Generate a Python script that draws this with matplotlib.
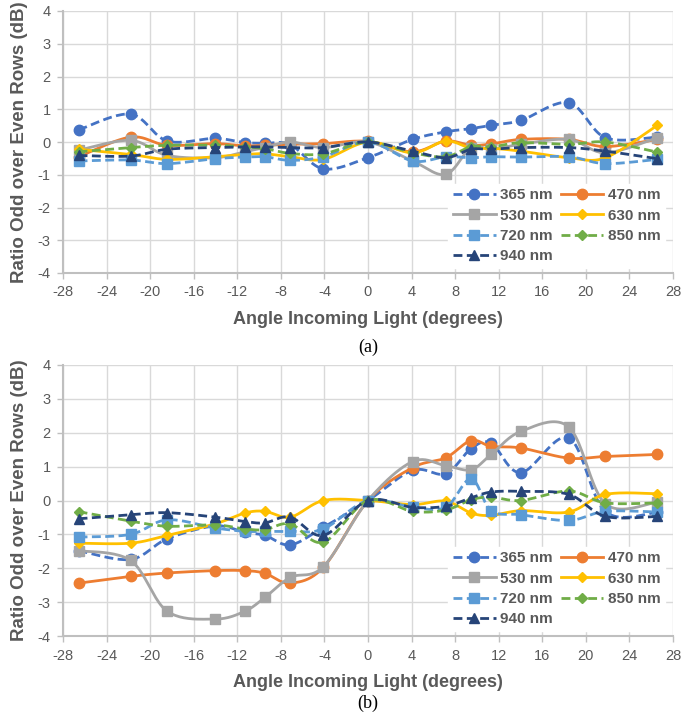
import numpy as np
import matplotlib
matplotlib.use("Agg")
import matplotlib.pyplot as plt

# ---------------- data ----------------
angles = [-26.57, -21.8, -18.43, -14.04, -11.31, -9.46, -7.13, -4.09, 0,
          4.09, 7.13, 9.46, 11.31, 14.04, 18.43, 21.8, 26.57]
labels = ["365 nm", "470 nm", "530 nm", "630 nm", "720 nm", "850 nm", "940 nm"]

# (a)
a_365 = [0.37, 0.85, 0.03, 0.11, -0.02, -0.04, -0.08, -0.82, -0.48,
         0.08, 0.31, 0.41, 0.51, 0.66, 1.20, 0.13, 0.15]
a_470 = [-0.45, 0.15, -0.10, -0.05, -0.12, -0.10, -0.07, -0.05, 0.02,
         -0.30, 0.03, -0.10, -0.06, 0.08, 0.08, -0.14, 0.08]
a_530 = [-0.25, 0.05, -0.41, -0.48, -0.30, -0.17, 0.00, -0.17, 0.00,
         -0.58, -0.99, -0.17, -0.22, -0.07, 0.08, -0.33, 0.13]
a_630 = [-0.22, -0.38, -0.53, -0.45, -0.38, -0.36, -0.45, -0.53, 0.00,
         -0.33, 0.03, -0.19, -0.19, -0.28, -0.48, -0.48, 0.51]
a_720 = [-0.58, -0.55, -0.66, -0.51, -0.46, -0.45, -0.56, -0.45, 0.00,
         -0.58, -0.45, -0.48, -0.45, -0.46, -0.45, -0.66, -0.53]
a_850 = [-0.30, -0.17, -0.10, -0.10, -0.15, -0.20, -0.35, -0.36, 0.00,
         -0.33, -0.45, -0.14, -0.15, -0.02, -0.07, 0.00, -0.31]
a_940 = [-0.41, -0.43, -0.22, -0.17, -0.15, -0.15, -0.17, -0.17, 0.00,
         -0.28, -0.48, -0.22, -0.22, -0.17, -0.17, -0.28, -0.51]

# (b)
b_365 = [-1.48, -1.74, -1.13, -0.75, -0.94, -1.03, -1.31, -0.79, 0.00,
         0.89, 0.79, 1.53, 1.69, 0.82, 1.85, -0.33, -0.35]
b_470 = [-2.44, -2.24, -2.14, -2.07, -2.07, -2.15, -2.44, -1.97, 0.00,
         0.97, 1.26, 1.77, 1.60, 1.55, 1.25, 1.30, 1.36]
b_530 = [-1.48, -1.77, -3.27, -3.50, -3.27, -2.86, -2.27, -1.95, 0.00,
         1.15, 1.03, 0.91, 1.36, 2.04, 2.17, -0.10, -0.05]
b_630 = [-1.26, -1.26, -1.03, -0.69, -0.37, -0.32, -0.49, 0.00, 0.00,
         -0.12, -0.02, -0.37, -0.44, -0.30, -0.34, 0.18, 0.20]
b_720 = [-1.08, -1.00, -0.57, -0.81, -0.91, -0.91, -0.91, -0.84, 0.00,
         -0.20, -0.20, 0.64, -0.30, -0.42, -0.59, -0.32, -0.34]
b_850 = [-0.33, -0.61, -0.76, -0.72, -0.84, -0.86, -0.69, -1.23, 0.00,
         -0.32, -0.28, 0.02, 0.10, 0.00, 0.28, -0.07, -0.07]
b_940 = [-0.54, -0.42, -0.36, -0.49, -0.62, -0.66, -0.49, -1.03, 0.00,
         -0.20, -0.17, 0.08, 0.25, 0.27, 0.18, -0.47, -0.47]

xticks = list(range(-28, 29, 4))
yticks = list(range(-4, 5, 1))
xlabel = "Angle Incoming Light (degrees)"
ylabel = "Ratio Odd over Even Rows (dB)"

# ---------------- styles ----------------
colors = ["#4472C4", "#ED7D31", "#A5A5A5", "#FFC000", "#5B9BD5", "#70AD47", "#264478"]
markers = ["o", "o", "s", "D", "s", "D", "^"]
msizes = [7.5, 7.5, 7, 5, 7, 5, 7.5]
dashed = [True, False, False, False, True, True, True]
DASH = (0, (3.2, 1.6))


def smooth(x, y, n=24):
    """Excel-like smoothed line (Catmull-Rom / cubic Bezier through points)."""
    x = np.asarray(x, float)
    y = np.asarray(y, float)
    P = np.column_stack([x, y])
    out = []
    for i in range(len(P) - 1):
        p0 = P[i - 1] if i > 0 else P[i]
        p1 = P[i]
        p2 = P[i + 1]
        p3 = P[i + 2] if i + 2 < len(P) else P[i + 1]
        c1 = p1 + (p2 - p0) / 6.0
        c2 = p2 - (p3 - p1) / 6.0
        t = np.linspace(0, 1, n)[:, None]
        seg = ((1 - t) ** 3) * p1 + 3 * ((1 - t) ** 2) * t * c1 + 3 * (1 - t) * t ** 2 * c2 + t ** 3 * p2
        out.append(seg if i == 0 else seg[1:])
    S = np.vstack(out)
    return S[:, 0], S[:, 1]


W, H = 694, 717
fig = plt.figure(figsize=(W / 100, H / 100), dpi=100)

TXT = "#595959"
GRID = "#D9D9D9"
tickfont = ["Liberation Sans Narrow", "Liberation Sans", "DejaVu Sans"]


def make_axes(top_px, bottom_px, series, tag, tag_y):
    left_px, right_px = 63, 673
    ax = fig.add_axes([left_px / W, 1 - bottom_px / H, (right_px - left_px) / W,
                       (bottom_px - top_px) / H])
    handles = []
    for i, ys in enumerate(series):
        sx, sy = smooth(angles, ys)
        ls = DASH if dashed[i] else "-"
        ax.plot(sx, sy, color=colors[i], lw=2.0, linestyle=ls, zorder=3 + i * 0.1,
                solid_capstyle="round")
        ax.plot(angles, ys, linestyle="none", marker=markers[i], ms=msizes[i],
                color=colors[i], mec=colors[i], zorder=3 + i * 0.1)
        h, = ax.plot([], [], color=colors[i], lw=2.0, linestyle=ls, marker=markers[i],
                     ms=msizes[i], mec=colors[i], label=labels[i])
        handles.append(h)
    ax.set_xlim(-28, 28)
    ax.set_ylim(-4, 4)
    ax.set_xticks(xticks)
    ax.set_yticks(yticks)
    ax.set_xticklabels([str(v) for v in xticks], family=tickfont, fontsize=10.5, color=TXT)
    ax.set_yticklabels([str(v) for v in yticks], family=tickfont, fontsize=10.5, color=TXT)
    ax.grid(True, color=GRID, lw=1.0, zorder=0)
    ax.set_axisbelow(True)
    for s in ["top", "right"]:
        ax.spines[s].set_visible(False)
    for s in ["left", "bottom"]:
        ax.spines[s].set_color("#BFBFBF")
        ax.spines[s].set_linewidth(1.5)
    ax.tick_params(axis="both", direction="out", length=4, color="#BFBFBF", width=1, pad=5)
    ax.set_xlabel(xlabel, family=["Liberation Sans", "DejaVu Sans"], fontweight="bold",
                  fontsize=13, color=TXT, labelpad=8)
    ax.set_ylabel(ylabel, family=["Liberation Sans", "DejaVu Sans"], fontweight="bold",
                  fontsize=13.5, color=TXT, labelpad=7)
    order = [0, 2, 4, 6, 1, 3, 5]
    leg = ax.legend([handles[k] for k in order], [labels[k] for k in order],
                    ncol=2, loc="lower right", bbox_to_anchor=(1.0, -0.01),
                    frameon=True, fancybox=False, framealpha=1.0, edgecolor="white",
                    handlelength=2.8, handletextpad=0.3, columnspacing=0.5,
                    labelspacing=0.42, borderpad=0.3,
                    prop={"family": ["Liberation Sans", "DejaVu Sans"], "weight": "bold",
                          "size": 11})
    for t in leg.get_texts():
        t.set_color(TXT)
    leg.set_zorder(10)
    fig.text(0.5 * (left_px + right_px) / W, 1 - tag_y / H, tag, ha="center", va="center",
             family=["Liberation Serif", "DejaVu Serif"], fontsize=13, color="black")
    return ax


make_axes(11, 273, [a_365, a_470, a_530, a_630, a_720, a_850, a_940], "(a)", 347)
make_axes(365, 636, [b_365, b_470, b_530, b_630, b_720, b_850, b_940], "(b)", 703)

fig.savefig("out.png", dpi=100, facecolor="white")
